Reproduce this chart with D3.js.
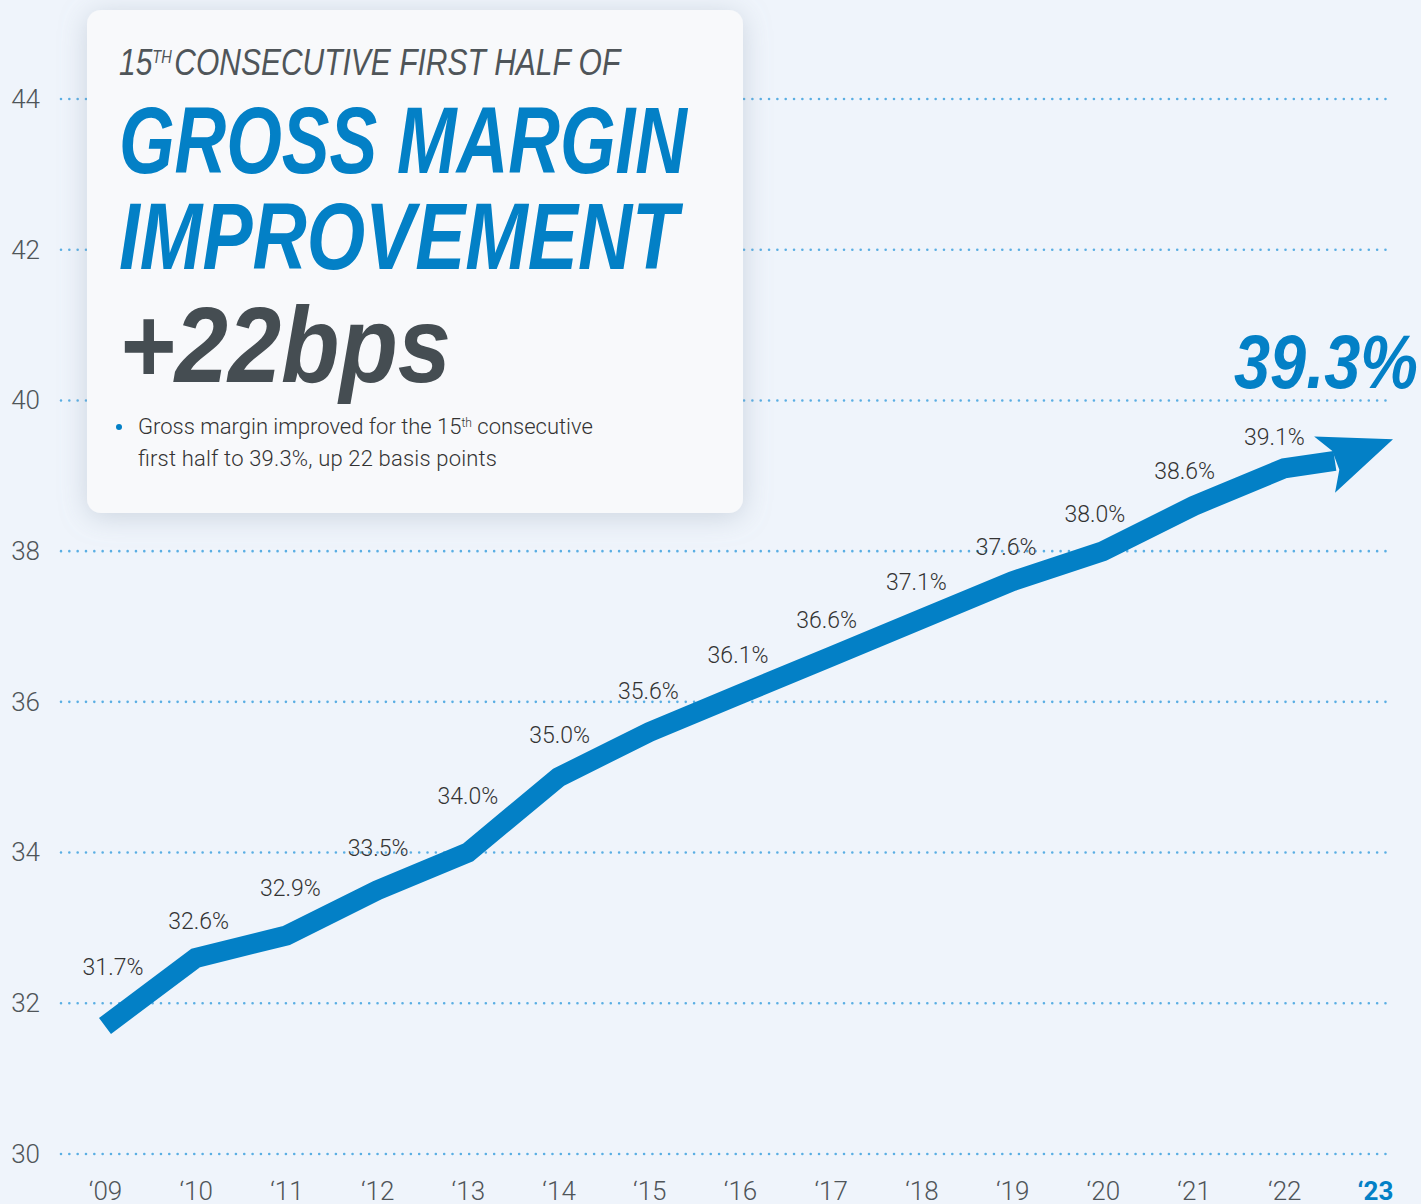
<!DOCTYPE html>
<html>
<head>
<meta charset="utf-8">
<script src="https://cdn.jsdelivr.net/npm/d3@7"></script>
<style>
  body { margin: 0; background: #eff4fb; }
  svg { display: block; font-family: Roboto, "Liberation Sans", sans-serif; }
</style>
</head>
<body>
<div id="chart"></div>
<script>
// data
const years = ["09", "10", "11", "12", "13", "14", "15", "16", "17", "18", "19", "20", "21", "22", "23"];
const grossMargin = [31.7, 32.6, 32.9, 33.5, 34.0, 35.0, 35.6, 36.1, 36.6, 37.1, 37.6, 38.0, 38.6, 39.1, 39.3];
const yTicks = [30, 32, 34, 36, 38, 40, 42, 44];

// label nudges (layout only), one per labelled year
const labelShift = [[8, -51], [3, -29], [4, -39], [1, -34], [0, -49], [1, -34], [-1, -33],
  [-2, -31], [-4, -29], [-5, -29], [-6, -26], [-8, -29], [-9, -27], [-10, -23]];

const W = 1421, H = 1204;
const blue = "#0380c6", dark = "#454d52";

const svg = d3.select("#chart").append("svg")
  .attr("width", W).attr("height", H);

const defs = svg.append("defs");
const f = defs.append("filter").attr("id", "shadow")
  .attr("x", "-20%").attr("y", "-20%").attr("width", "140%").attr("height", "140%");
f.append("feDropShadow").attr("dx", 0).attr("dy", 4).attr("stdDeviation", 14)
  .attr("flood-color", "#8797ab").attr("flood-opacity", 0.35);

const x = d3.scalePoint().domain(years).range([105, 1375]);
const y = d3.scaleLinear().domain([30, 44]).range([1154, 99]);

// dotted gridlines
svg.append("g").selectAll("line")
  .data(yTicks)
  .join("line")
  .attr("x1", 61).attr("x2", 1393)
  .attr("y1", d => y(d)).attr("y2", d => y(d))
  .attr("stroke", "#5aaee3")
  .attr("stroke-width", 2.6)
  .attr("stroke-linecap", "round")
  .attr("stroke-dasharray", "0 8.33");

// y axis labels
const yAxis = svg.append("g")
  .attr("transform", "translate(40,0)")
  .call(d3.axisLeft(y).tickValues(yTicks).tickSize(0).tickPadding(0));
yAxis.select(".domain").remove();
yAxis.selectAll("text")
  .attr("fill", "#4f5559")
  .style("font-family", "Roboto, sans-serif")
  .style("font-weight", 300)
  .style("font-size", "26px");

// x axis labels
const xAxis = svg.append("g")
  .attr("transform", "translate(0,1182)")
  .call(d3.axisBottom(x).tickSize(0).tickPadding(0).tickFormat(d => "\u2018" + d));
xAxis.select(".domain").remove();
xAxis.selectAll("text")
  .attr("dy", "0.71em")
  .attr("fill", d => d === "23" ? blue : "#4f5559")
  .style("font-family", "Roboto, sans-serif")
  .style("font-weight", d => d === "23" ? 700 : 300)
  .style("font-size", "26px");

// line up to '22, then arrow toward '23
const pts = years.map((yr, i) => [x(yr), y(grossMargin[i])]);
const last = pts.length - 1;
const tip = [pts[last][0] + 18, pts[last][1] - 14];
const ang = -20.4 * Math.PI / 180;
const headBack = 62;
const shaftEnd = [tip[0] - headBack * Math.cos(ang), tip[1] - headBack * Math.sin(ang)];

const linePts = pts.slice(0, last).concat([shaftEnd]);
svg.append("path")
  .attr("d", d3.line()(linePts))
  .attr("fill", "none")
  .attr("stroke", blue)
  .attr("stroke-width", 20)
  .attr("stroke-linejoin", "miter")
  .attr("stroke-linecap", "butt");

svg.append("path")
  .attr("d", "M0,0 L-73,-30 L-61,-10 L-61,10 L-73,30 Z")
  .attr("transform", `translate(${tip[0]},${tip[1]}) rotate(${ang * 180 / Math.PI})`)
  .attr("fill", blue);

// value labels
svg.append("g").selectAll("text")
  .data(grossMargin.slice(0, last))
  .join("text")
  .attr("x", (d, i) => x(years[i]) + labelShift[i][0])
  .attr("y", (d, i) => y(d) + labelShift[i][1])
  .attr("text-anchor", "middle")
  .attr("fill", "#333")
  .style("font-weight", 300)
  .style("font-size", "23px")
  .text(d => d3.format(".1f")(d) + "%");

// big final value
svg.append("text")
  .attr("x", 1418).attr("y", 388)
  .attr("text-anchor", "end")
  .attr("fill", blue)
  .style("font-family", "'Liberation Sans', sans-serif")
  .style("font-weight", 700)
  .style("font-style", "italic")
  .style("font-size", "76px")
  .attr("textLength", 184)
  .attr("lengthAdjust", "spacingAndGlyphs")
  .text(d3.format(".1f")(grossMargin[last]) + "%");

// headline card
const card = svg.append("g");
card.append("rect")
  .attr("x", 87).attr("y", 10)
  .attr("width", 656).attr("height", 503)
  .attr("rx", 14)
  .attr("fill", "#f8f9fb")
  .attr("filter", "url(#shadow)");

const cond = "'Liberation Sans', 'DejaVu Sans', sans-serif";

// kicker line, squeezed horizontally to look condensed
const kickG = card.append("g");
const kick = kickG.append("text")
  .attr("fill", "#4f5559")
  .style("font-family", cond).style("font-style", "italic")
  .style("font-size", "37px");
kick.append("tspan").text("15");
kick.append("tspan").attr("dy", -12).style("font-size", "18px").text("TH");
kick.append("tspan").attr("dy", 12).attr("dx", 3).text("CONSECUTIVE FIRST HALF OF");
const kickLen = kick.node().getComputedTextLength();
kickG.attr("transform", `translate(119,75) scale(${499 / kickLen},1)`);

card.append("text")
  .attr("x", 119).attr("y", 173)
  .attr("fill", blue)
  .style("font-family", cond).style("font-style", "italic").style("font-weight", 700)
  .style("font-size", "94px")
  .attr("textLength", 568).attr("lengthAdjust", "spacingAndGlyphs")
  .text("GROSS MARGIN");
card.append("text")
  .attr("x", 119).attr("y", 269)
  .attr("fill", blue)
  .style("font-family", cond).style("font-style", "italic").style("font-weight", 700)
  .style("font-size", "94px")
  .attr("textLength", 559).attr("lengthAdjust", "spacingAndGlyphs")
  .text("IMPROVEMENT");
card.append("text")
  .attr("x", 119).attr("y", 382)
  .attr("fill", dark)
  .style("font-family", cond).style("font-style", "italic").style("font-weight", 700)
  .style("font-size", "108px")
  .attr("textLength", 332).attr("lengthAdjust", "spacingAndGlyphs")
  .text("+22bps");

card.append("circle")
  .attr("cx", 119).attr("cy", 427).attr("r", 3)
  .attr("fill", blue);
const b1 = card.append("text")
  .attr("x", 138).attr("y", 434)
  .attr("fill", "#333")
  .style("font-weight", 300)
  .style("font-size", "22px");
b1.append("tspan").text("Gross margin improved for the 15");
b1.append("tspan").attr("baseline-shift", "super").style("font-size", "12px").text("th");
b1.append("tspan").text(" consecutive");
card.append("text")
  .attr("x", 138).attr("y", 466)
  .attr("fill", "#333")
  .style("font-weight", 300)
  .style("font-size", "22px")
  .attr("textLength", 359).attr("lengthAdjust", "spacing")
  .text("first half to 39.3%, up 22 basis points");
</script>
</body>
</html>
